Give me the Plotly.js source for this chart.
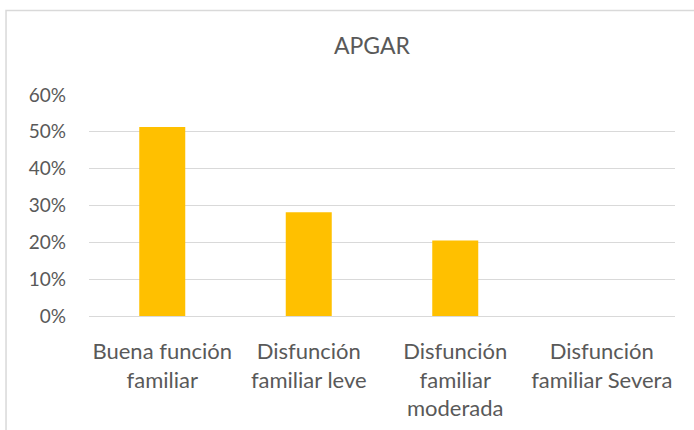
<!DOCTYPE html>
<html>
<head>
<meta charset="utf-8">
<script src="https://cdn.plot.ly/plotly-3.0.1.min.js"></script>
<style>html,body{margin:0;padding:0;background:#fff;}#chart{width:694px;height:430px;}</style>
</head>
<body>
<div id="chart"></div>
<script>
const categories = ["Buena función<br>familiar", "Disfunción<br>familiar leve", "Disfunción<br>familiar<br>moderada", "Disfunción<br>familiar Severa"];
const values = [0.513, 0.282, 0.205, 0];
const yTickVals = [0, 0.1, 0.2, 0.3, 0.4, 0.5, 0.6];
const chartTitle = "APGAR";

const font = "Lato, 'Open Sans', sans-serif";
const trace = {
  type: "bar",
  x: categories,
  y: values,
  marker: {color: "#FFC000"},
  hoverinfo: "skip"
};
const layout = {
  width: 694, height: 430,
  margin: {l: 89, r: 19, t: 95, b: 114},
  paper_bgcolor: "#fff", plot_bgcolor: "#fff",
  bargap: 0.686,
  showlegend: false,
  title: {text: chartTitle, x: 0.536, xanchor: "center", y: 0.893, yanchor: "middle",
          font: {family: font, size: 23, color: "#595959"}},
  font: {family: font, size: 19, color: "#595959"},
  xaxis: {type: "category", showgrid: false, showline: false, zeroline: false, ticks: "",
          ticklabelstandoff: 20, tickfont: {family: font, size: 22, color: "#595959"}},
  yaxis: {range: [0, 0.6], tickvals: yTickVals, tickformat: ".0%", showgrid: true, gridcolor: "#d9d9d9", gridwidth: 1,
          zeroline: true, zerolinecolor: "#d9d9d9", zerolinewidth: 1, showline: false, ticks: "",
          ticklabelstandoff: 22, tickfont: {family: font, size: 19, color: "#595959"}},
  shapes: [{type: "rect", xref: "paper", yref: "paper", x0: -0.1416, x1: 1.2, y0: -0.7, y1: 1.382,
            line: {color: "#d9d9d9", width: 1.5}, fillcolor: "rgba(0,0,0,0)", layer: "below"}]
};
Plotly.newPlot("chart", [trace], layout, {displayModeBar: false, staticPlot: true});
</script>
</body>
</html>
